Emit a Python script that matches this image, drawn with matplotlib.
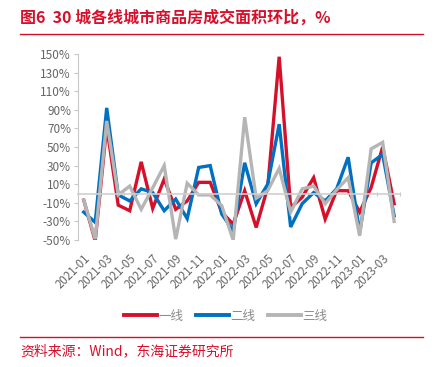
import matplotlib
matplotlib.use('Agg')
import matplotlib.pyplot as plt
from matplotlib.lines import Line2D
from matplotlib.ticker import FixedLocator, FuncFormatter
import numpy as np

plt.rcParams['font.family'] = ['Noto Sans CJK SC', 'DejaVu Sans']

# months 2021-01 .. 2023-04
months = [f"{2021 + (i // 12)}-{(i % 12) + 1:02d}" for i in range(28)]

tier1 = [-7, -51, 72, -12.5, -18.5, 34, -16, 15.5, -17, -8, 12, 12, -20, -33,
         3, -36.5, 6.5, 147, -15, -4, 17, -27.5, 3, 3, -20, 6.5, 50, -11]
tier2 = [-20, -31, 92, -1.5, -8, 5, 1, -18.5, -6, -27, 28, 30, -22, -40,
         33, -11, 10, 74.5, -36, -11, 1, -8, 5, 39, -42, 33, 42, -24]
tier3 = [-7, -49, 78, -1.5, 8, -17, 6, 30, -49, 11, -1.5, -1.5, -13, -50,
         82, -5, 3, 27, -20, 5, 8, -11, 4, 17, -45.5, 48, 55, -30]

series = [("一线", tier1, "#D6102B"), ("二线", tier2, "#0070C0"), ("三线", tier3, "#B5B5B5")]

RED = "#D6102B"
GRAY_TXT = "#666666"

fig = plt.figure(figsize=(4.38, 3.67), dpi=100)
ax = fig.add_axes([0.178, 0.346, 0.735, 0.507])

x = np.arange(len(months))
for name, vals, col in series:
    ax.plot(x, vals, color=col, lw=2.4, label=name, solid_joinstyle='miter')

ax.set_xlim(-0.5, len(months) - 0.5)
ax.set_ylim(-50, 150)
ax.set_yticks(np.arange(-50, 151, 20))
ax.yaxis.set_major_formatter(FuncFormatter(lambda v, p: f"{v:.0f}%"))
ax.tick_params(axis='y', colors="#C8C8C8", labelcolor=GRAY_TXT, labelsize=8.5,
               length=3, width=0.8, direction='out', pad=2)

# x axis sits at zero; labels pushed below the plot
ax.spines['bottom'].set_position(('data', 0))
ax.spines['bottom'].set_color("#CFCFCF")
ax.spines['bottom'].set_linewidth(1.2)
ax.spines['left'].set_color("#C8C8C8")
ax.spines['top'].set_visible(False)
ax.spines['right'].set_visible(False)
ax.set_zorder(1)

ax.set_xticks(x[::2])
ax.set_xticklabels(months[::2])
ax.xaxis.set_minor_locator(FixedLocator(np.arange(-0.5, len(months), 2)))
ax.tick_params(axis='x', which='major', length=0, pad=42, labelsize=8.3,
               labelcolor=GRAY_TXT)
ax.tick_params(axis='x', which='minor', length=3, width=0.8, color="#C8C8C8",
               direction='inout')
for lab in ax.get_xticklabels():
    lab.set_rotation(45)
    lab.set_ha('right')
    lab.set_rotation_mode('anchor')

leg = ax.legend(loc='center', bbox_to_anchor=(0.46, -0.41), ncol=3, frameon=False,
                fontsize=9, handlelength=2.6, handletextpad=0.15, columnspacing=1.0,
                labelcolor="#8C8C8C")
for h in leg.get_lines():
    h.set_linewidth(2.8)

# title and source
fig.text(0.046, 0.952, "图6  30 城各线城市商品房成交面积环比，%", color=RED,
         fontsize=11.5, fontweight='bold', va='center', ha='left')
fig.add_artist(Line2D([0.046, 0.965], [0.908, 0.908], color=RED, lw=1.0))
fig.add_artist(Line2D([0.046, 0.965], [0.082, 0.082], color=RED, lw=1.0))
fig.text(0.046, 0.042, "资料来源：Wind，东海证券研究所", color=RED,
         fontsize=10, va='center', ha='left')

fig.savefig("out.png", dpi=100)
